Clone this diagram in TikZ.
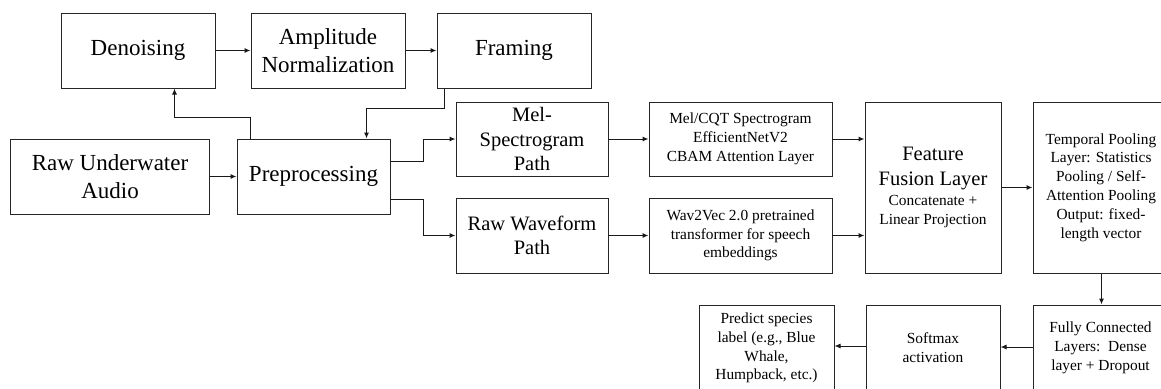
\documentclass[tikz,border=0pt]{standalone}
\usepackage{fontspec}
\setmainfont{Liberation Serif}
\newfontfamily\tnr{Liberation Serif}
\usetikzlibrary{calc,arrows.meta}
\newcommand{\smallf}{\fontsize{15.4}{18.8}\selectfont}
\tikzset{
  box/.style={draw=black!85, line width=1pt, fill=white, align=center, inner sep=2pt},
  big/.style={font=\tnr\fontsize{23}{28}\selectfont},
  mid/.style={font=\tnr\fontsize{20.5}{24.5}\selectfont},
  small/.style={font=\tnr\smallf},
  arr/.style={draw=black!90, line width=1pt, -{Latex[length=6pt,width=5pt]}},
}
\begin{document}
\begin{tikzpicture}[x=1pt,y=-1pt]
\clip (0,0) rectangle (1161,388);
\fill[white] (0,0) rectangle (1161,388);
% top row
\node[box,big,minimum width=154pt,minimum height=75pt] (den) at (138,50.5) {Denoising};
\node[box,big,minimum width=154pt,minimum height=75pt] (amp) at (328,50.5) {Amplitude\\Normalization};
\node[box,big,minimum width=154pt,minimum height=75pt] (fram) at (514,50.5) {Framing};
% input row
\node[box,big,minimum width=199pt,minimum height=75pt] (raw) at (110,176.5) {Raw Underwater\\Audio};
\node[box,big,minimum width=153pt,minimum height=75pt] (pre) at (313.5,176.5) {Preprocessing};
% paths
\node[box,mid,minimum width=152pt,minimum height=74pt] (mel) at (532,139) {Mel-\\Spectrogram\\Path};
\node[box,mid,minimum width=152pt,minimum height=75pt] (wav) at (532,235.5) {Raw Waveform\\Path};
\node[box,small,minimum width=183pt,minimum height=74pt] (cqt) at (740.5,139) {Mel/CQT Spectrogram\\EfficientNetV2\\CBAM Attention Layer};
\node[box,small,minimum width=183pt,minimum height=75pt] (w2v) at (740.5,235.5) {Wav2Vec 2.0 pretrained\\transformer for speech\\embeddings};
\node[box,mid,minimum width=136pt,minimum height=171pt] (fus) at (933,187.5) {Feature\\Fusion Layer\\[-4pt]\smallf Concatenate +\\[-5.5pt]\smallf Linear Projection};
\node[box,small,minimum width=136pt,minimum height=171pt] (tmp) at (1101,187.5) {Temporal Pooling\\Layer: Statistics\\Pooling / Self-\\Attention Pooling\\Output: fixed-\\length vector};
% bottom row
\node[box,small,minimum width=135pt,minimum height=86pt] (fc) at (1100.5,348) {Fully Connected\\Layers:\ \ Dense\\layer + Dropout};
\node[box,small,minimum width=134pt,minimum height=86pt] (soft) at (933,348) {Softmax\\activation};
\node[box,small,minimum width=135pt,minimum height=86pt] (pred) at (766.5,348) {Predict species\\label (e.g., Blue\\Whale,\\Humpback, etc.)};
% connectors
\draw[arr] (den.east) -- (amp.west);
\draw[arr] (amp.east) -- (fram.west);
\draw[arr] (raw.east) -- (pre.west);
\draw[arr] ($(pre.north west)+(14,0)$) -- ++(0,-21) -| ($(den.south west)+(114,0)$);
\draw[arr] ($(fram.south west)+(8,0)$) -- ++(0,20) -| ($(pre.north west)+(130,0)$);
\draw[arr] ($(pre.east)+(0,-15.5)$) -- ++(33,0) |- (mel.west);
\draw[arr] ($(pre.east)+(0,22.5)$) -- ++(33,0) |- (wav.west);
\draw[arr] (mel.east) -- (cqt.west);
\draw[arr] (wav.east) -- (w2v.west);
\draw[arr] (cqt.east) -- (cqt.east -| fus.west);
\draw[arr] (w2v.east) -- (w2v.east -| fus.west);
\draw[arr] (fus.east) -- (tmp.west);
\draw[arr] ($(tmp.south west)+(69,0)$) -- ($(fc.north west)+(69,0)$);
\draw[arr] ($(fc.west)+(0,-1)$) -- ($(soft.east)+(0,-1)$);
\draw[arr] ($(soft.west)+(0,-2)$) -- ($(pred.east)+(0,-2)$);
\end{tikzpicture}
\end{document}
